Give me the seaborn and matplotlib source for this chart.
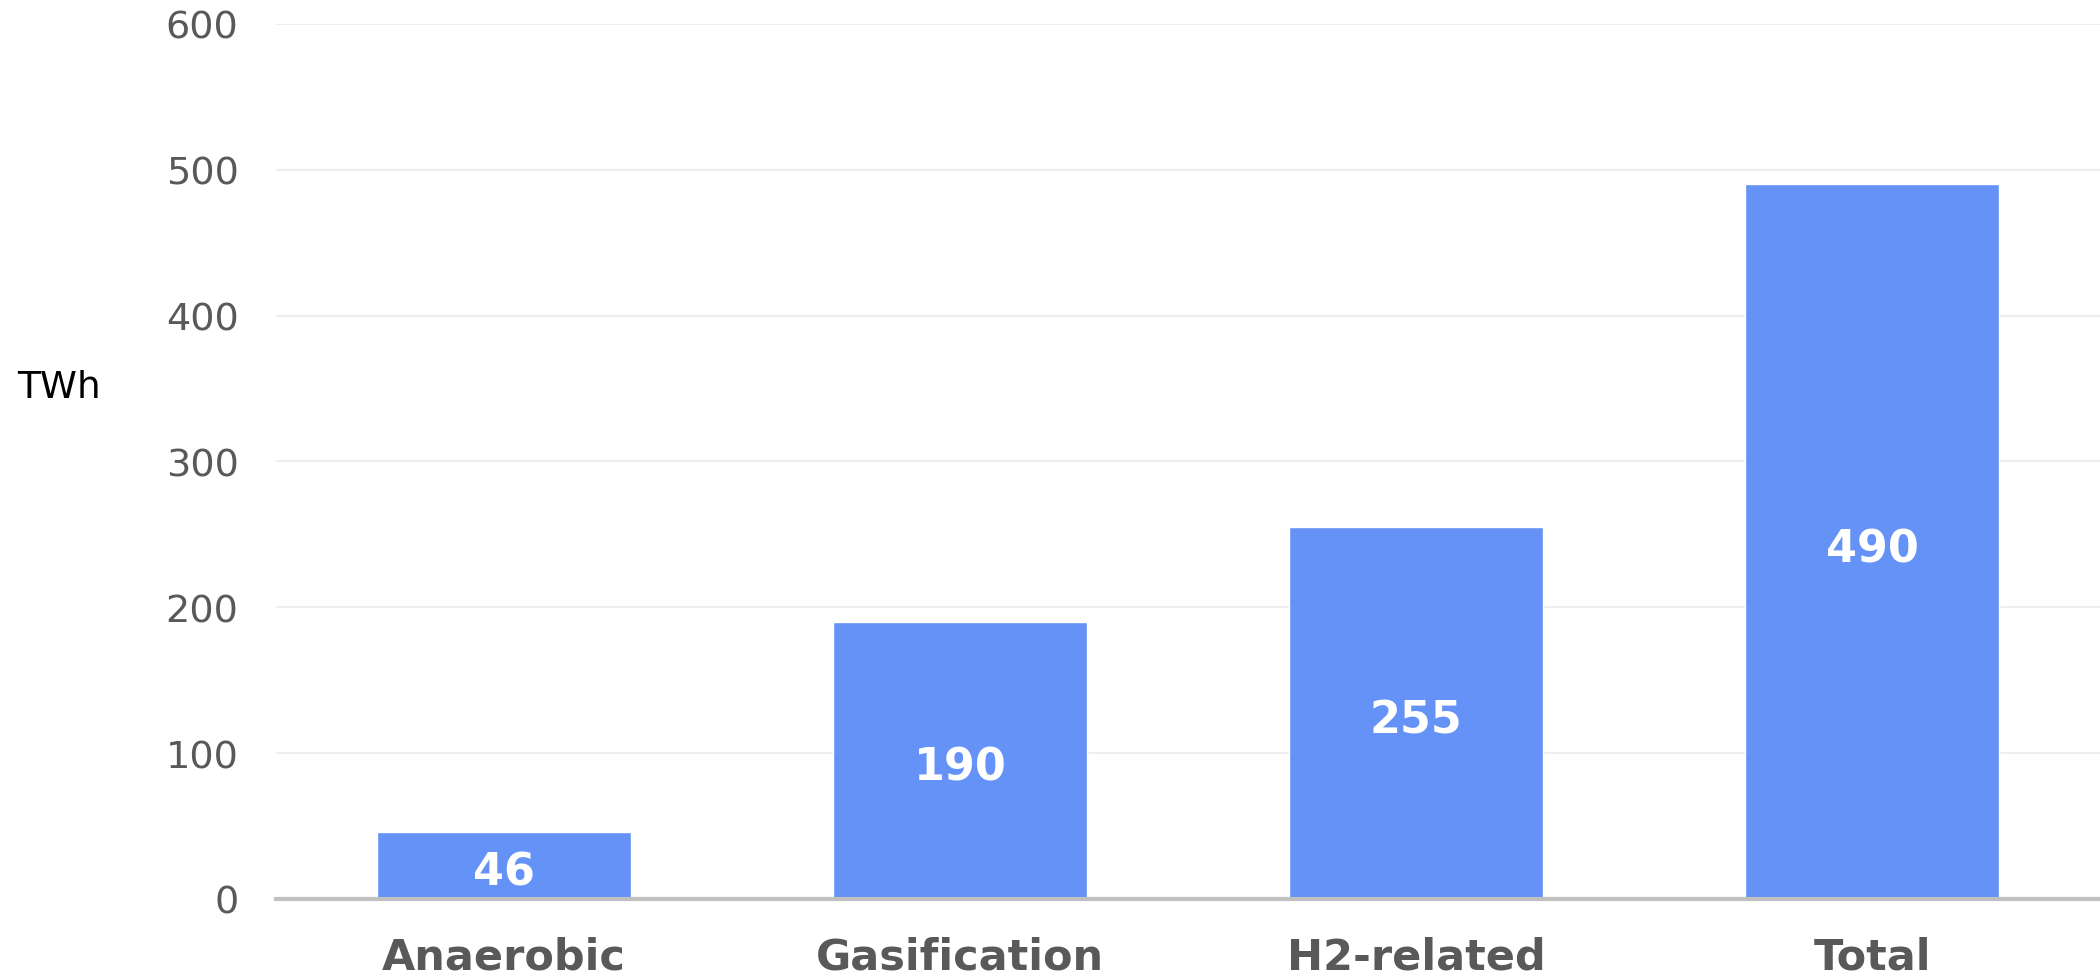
import matplotlib
matplotlib.use("Agg")
import matplotlib.pyplot as plt
import seaborn as sns
import pandas as pd

# values
categories = ["Anaerobic", "Gasification", "H2-related", "Total"]
values = [46, 190, 255, 490]
y_ticks = [0, 100, 200, 300, 400, 500, 600]

df = pd.DataFrame({"category": categories, "TWh": values})

sns.set_theme(style="white")
plt.rcParams["font.family"] = ["DejaVu Sans"]

fig = plt.figure(figsize=(21, 9.79), dpi=100)
ax = fig.add_axes([276 / 2100, 1 - 900 / 979, 1 - 276 / 2100, (900 - 25) / 979])

sns.barplot(data=df, x="category", y="TWh", color="#6592f7", saturation=1,
            width=0.556, ax=ax, zorder=3)

ax.set_ylim(0, 600)
ax.set_xlim(-0.5, 3.5)
ax.set_yticks(y_ticks)
ax.set_yticklabels([str(t) for t in y_ticks])
ax.yaxis.grid(True, color="#eeeeee", linewidth=1.5, zorder=0)
ax.set_axisbelow(True)

for s in ["top", "right", "left"]:
    ax.spines[s].set_visible(False)
ax.spines["bottom"].set_color("#c0c0c0")
ax.spines["bottom"].set_linewidth(3)
ax.spines["bottom"].set_zorder(4)

ax.tick_params(axis="y", length=0, pad=27, labelsize=27.5, labelcolor="#595959")
ax.tick_params(axis="x", length=0, pad=26, labelsize=31, labelcolor="#595959")
for lab in ax.get_xticklabels():
    lab.set_fontweight("bold")

ax.set_xlabel("")
ax.set_ylabel("")
fig.text(17 / 2100, 1 - 388 / 979, "TWh", ha="left", va="center",
         fontsize=27, color="black")

# value labels, centred in each bar (a touch low, as in the reference)
for rect, v in zip(ax.patches, values):
    ax.annotate(str(v), (rect.get_x() + rect.get_width() / 2, rect.get_height() / 2),
                xytext=(0, -5), textcoords="offset points", ha="center", va="center",
                color="white", fontweight="bold", fontsize=32, zorder=5)

fig.savefig("out.png", dpi=100)
